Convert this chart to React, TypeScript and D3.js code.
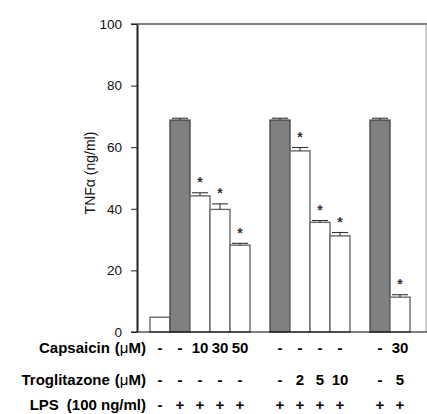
import React, { useEffect, useRef } from "react";
import * as d3 from "d3";

// bars, left to right
const barIds = ["ctrl", "lps", "cap10", "cap30", "cap50", "lps2", "tro2", "tro5", "tro10", "lps3", "cap30tro5"];
// slots incl. the empty spaces between the three groups
const slotIds = ["ctrl", "lps", "cap10", "cap30", "cap50", "gap1", "lps2", "tro2", "tro5", "tro10", "gap2", "lps3", "cap30tro5"];
const tnfMean = [4.8, 68.8, 44.2, 39.8, 28.2, 68.8, 58.8, 35.6, 31.2, 68.8, 11.3];
const tnfErr = [0, 0.6, 1.0, 1.8, 0.6, 0.6, 1.1, 0.6, 1.1, 0.6, 0.8];
const lpsOnly = [false, true, false, false, false, true, false, false, false, true, false];
const significant = [false, false, true, true, true, false, true, true, true, false, true];

const capsaicinRow = ["-", "-", "10", "30", "50", "-", "-", "-", "-", "-", "30"];
const troglitazoneRow = ["-", "-", "-", "-", "-", "-", "2", "5", "10", "-", "5"];
const lpsRow = ["-", "+", "+", "+", "+", "+", "+", "+", "+", "+", "+"];
const rowLabels = [
  { name: "Capsaicin", unit: "\u03bc", rest: "M)", gap: 5, values: capsaicinRow },
  { name: "Troglitazone", unit: "\u03bc", rest: "M)", gap: 5, values: troglitazoneRow },
  { name: "LPS", unit: "", rest: "100 ng/ml)", gap: 8, values: lpsRow },
];

const yTicks = [0, 20, 40, 60, 80, 100];

const W = 427;
const H = 414;
const axisX = 137;
const plotRight = 426;
const font = "'Liberation Sans', Arial, Helvetica, sans-serif";

export default function App() {
  const axisRef = useRef<SVGGElement>(null);

  const y = d3.scaleLinear().domain([0, 100]).range([332, 24]);
  const x = d3.scaleBand<string>().domain(slotIds).range([150, 410]).padding(0);
  const bw = x.bandwidth();
  const rowY = [353, 385, 410];

  useEffect(() => {
    if (!axisRef.current) return;
    const g = d3.select(axisRef.current);
    g.selectAll("*").remove();
    g.call(
      d3
        .axisLeft(y)
        .tickValues(yTicks)
        .tickSize(6)
        .tickSizeOuter(0)
        .tickPadding(9)
        .tickFormat(d3.format("d")) as any,
    );
    g.select(".domain").attr("stroke", "#222").attr("stroke-width", 2);
    g.selectAll(".tick line").attr("stroke", "#222");
    g.selectAll(".tick text")
      .attr("font-family", font)
      .attr("font-size", 13.5)
      .attr("fill", "#111");
  }, []);

  return (
    <svg
      width={W}
      height={H}
      style={{ position: "absolute", left: 0, top: 0, background: "#fff" }}
    >
      {/* frame */}
      <line x1={axisX - 6} x2={plotRight + 1} y1={y(100)} y2={y(100)} stroke="#000" strokeWidth={1.2} />
      <line x1={plotRight} x2={plotRight} y1={y(100)} y2={y(0)} stroke="#aaa" strokeWidth={1.2} />

      {/* bars */}
      {barIds.map((id, i) => {
        const x0 = x(id) as number;
        const top = y(tnfMean[i]);
        const capY = y(tnfMean[i] + tnfErr[i]);
        const cx = x0 + bw / 2;
        return (
          <g key={id}>
            <rect
              x={x0}
              y={top}
              width={bw}
              height={y(0) - top}
              fill={lpsOnly[i] ? "#808080" : "#fff"}
              stroke={lpsOnly[i] ? "#4a4a4a" : "#6a6a6a"}
              strokeWidth={1.4}
            />
            {tnfErr[i] > 0 && (
              <g stroke="#333" strokeWidth={1.1}>
                <line x1={cx} x2={cx} y1={top} y2={capY} />
                <line x1={cx - 8} x2={cx + 8} y1={capY} y2={capY} />
              </g>
            )}
            {significant[i] && (
              <text
                x={cx}
                y={capY - 5.5}
                textAnchor="middle"
                fontFamily={font}
                fontSize={14}
                fontWeight="bold"
                fill="#333"
              >
                *
              </text>
            )}
          </g>
        );
      })}

      {/* baseline */}
      <line x1={axisX - 6} x2={W} y1={y(0)} y2={y(0)} stroke="#000" strokeWidth={1.2} />

      <g ref={axisRef} transform={`translate(${axisX},0)`} />

      <text
        transform="translate(95,173) rotate(-90)"
        textAnchor="middle"
        fontFamily={font}
        fontSize={14}
        fill="#111"
      >
        TNF{"\u03b1"} (ng/ml)
      </text>

      {/* treatment table */}
      {rowLabels.map((row, r) => (
        <g key={row.name} fontFamily={font} fontSize={15} fontWeight="bold" fill="#000">
          <text x={146} y={rowY[r]} textAnchor="end">
            <tspan>{row.name}</tspan>
            <tspan dx={row.gap}>(</tspan>
            {row.unit && <tspan fontWeight="normal">{row.unit}</tspan>}
            <tspan>{row.rest}</tspan>
          </text>
          {row.values.map((v, i) => (
            <text
              key={i}
              x={(x(barIds[i]) as number) + bw / 2}
              y={rowY[r]}
              textAnchor="middle"
            >
              {v}
            </text>
          ))}
        </g>
      ))}
    </svg>
  );
}
